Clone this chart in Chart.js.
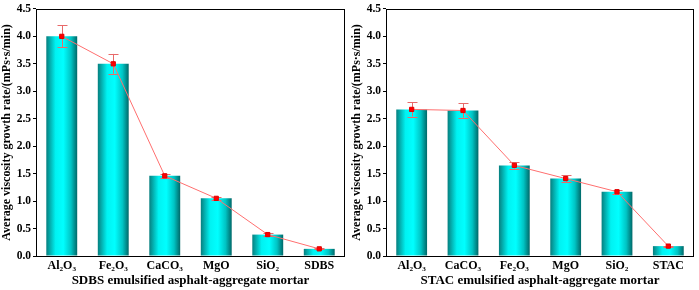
<!DOCTYPE html>
<html>
<head>
<meta charset="utf-8">
<script src="https://cdn.jsdelivr.net/npm/chart.js@4/dist/chart.umd.min.js"></script>
<style>
  html, body { margin: 0; padding: 0; background: #fff; }
  .panel { position: absolute; top: 0; height: 290px; }
</style>
</head>
<body>
<div class="panel" style="left:0;width:350px"><canvas id="chartSdbs"></canvas></div>
<div class="panel" style="left:350px;width:349px"><canvas id="chartStac"></canvas></div>
<script>
let sdbsLabels = ['Al₂O₃', 'Fe₂O₃', 'CaCO₃', 'MgO', 'SiO₂', 'SDBS'];
let sdbsValues = [4.0, 3.5, 1.46, 1.05, 0.39, 0.13];
let sdbsErrors = [0.2, 0.18, 0.04, 0.03, 0.02, 0.01];

let stacLabels = ['Al₂O₃', 'CaCO₃', 'Fe₂O₃', 'MgO', 'SiO₂', 'STAC'];
let stacValues = [2.67, 2.65, 1.65, 1.41, 1.17, 0.18];
let stacErrors = [0.13, 0.13, 0.06, 0.06, 0.04, 0.01];

let yTicks = [0, 0.5, 1.0, 1.5, 2.0, 2.5, 3.0, 3.5, 4.0, 4.5];

const serif = '"Liberation Serif", "DejaVu Serif", serif';

// cylinder look for the bars
function barGradient(context) {
    const chart = context.chart;
    const xs = chart.scales.x;
    if (!chart.chartArea || !xs || context.dataIndex === undefined) return '#00e0e0';
    const x = xs.getPixelForValue(context.dataIndex);
    const w = xs.width / xs.ticks.length * 0.6;
    const g = chart.ctx.createLinearGradient(x - w / 2, 0, x + w / 2, 0);
    g.addColorStop(0, '#067f7f');
    g.addColorStop(0.3, '#00f2f2');
    g.addColorStop(0.55, '#00ffff');
    g.addColorStop(0.8, '#00c4c4');
    g.addColorStop(1, '#006868');
    return g;
}

const errorBars = {
    id: 'errorBars',
    beforeDatasetDraw(chart, args) {
        if (args.index !== 1) return;
        const errs = chart.options.plugins.errorBars.errors;
        const vals = chart.data.datasets[1].data;
        const xs = chart.scales.x, ys = chart.scales.y, ctx = chart.ctx;
        ctx.save();
        ctx.strokeStyle = '#e86a6a';
        ctx.lineWidth = 1;
        vals.forEach((v, i) => {
            const x = Math.round(xs.getPixelForValue(i)) + 0.5;
            const top = ys.getPixelForValue(v + errs[i]);
            const bot = ys.getPixelForValue(v - errs[i]);
            ctx.beginPath();
            ctx.moveTo(x, top); ctx.lineTo(x, bot);
            ctx.moveTo(x - 5, Math.round(top) + 0.5); ctx.lineTo(x + 5, Math.round(top) + 0.5);
            ctx.moveTo(x - 5, Math.round(bot) + 0.5); ctx.lineTo(x + 5, Math.round(bot) + 0.5);
            ctx.stroke();
        });
        ctx.restore();
    }
};

const frame = {
    id: 'frame',
    afterDraw(chart) {
        const a = chart.chartArea, ctx = chart.ctx;
        ctx.save();
        ctx.strokeStyle = '#000';
        ctx.lineWidth = 1;
        ctx.strokeRect(Math.round(a.left) + 0.5, Math.round(a.top) + 0.5, Math.round(a.right - a.left) - 1, Math.round(a.bottom - a.top));
        ctx.restore();
    }
};

function makeChart(id, labels, values, errors, xTitle) {
    return new Chart(document.getElementById(id), {
        type: 'bar',
        data: {
            labels: labels,
            datasets: [{
                type: 'bar',
                data: values,
                backgroundColor: barGradient,
                borderWidth: 0,
                barPercentage: 0.6,
                categoryPercentage: 1.0,
                order: 2
            }, {
                type: 'line',
                data: values,
                borderColor: '#ff6f6f',
                borderWidth: 1,
                pointStyle: 'rect',
                pointRadius: 3,
                pointBackgroundColor: '#ff0000',
                pointBorderColor: '#e00000',
                pointBorderWidth: 1,
                tension: 0,
                order: 1
            }]
        },
        options: {
            responsive: true,
            maintainAspectRatio: false,
            animation: false,
            layout: { padding: { top: 6, right: 4, left: 0, bottom: 0 } },
            plugins: {
                legend: { display: false },
                tooltip: { enabled: false },
                errorBars: { errors: errors }
            },
            scales: {
                x: {
                    offset: true,
                    grid: { display: false, drawTicks: false },
                    border: { display: false },
                    ticks: { color: '#000', padding: 3, font: { family: serif, size: 12, weight: 'bold' } },
                    title: {
                        display: true,
                        text: xTitle,
                        color: '#000',
                        padding: { top: 0, bottom: 2 },
                        font: { family: serif, size: 13, weight: 'bold' }
                    },
                    afterFit: s => { s.height = 34; }
                },
                y: {
                    min: 0,
                    max: 4.5,
                    afterBuildTicks: s => { s.ticks = yTicks.map(v => ({ value: v })); },
                    grid: { drawOnChartArea: false, color: '#000', tickLength: 3 },
                    border: { display: false },
                    ticks: {
                        color: '#000',
                        padding: 2,
                        font: { family: serif, size: 11.5, weight: 'bold' },
                        callback: v => Number(v).toFixed(1)
                    },
                    title: {
                        display: true,
                        text: 'Average viscosity growth rate/(mPs·s/min)',
                        color: '#000',
                        padding: { top: 0, bottom: 0 },
                        font: { family: serif, size: 12, weight: 'bold' }
                    },
                    afterFit: s => { s.width = 36; }
                }
            }
        },
        plugins: [errorBars, frame]
    });
}

makeChart('chartSdbs', sdbsLabels, sdbsValues, sdbsErrors, 'SDBS emulsified asphalt-aggregate mortar');
makeChart('chartStac', stacLabels, stacValues, stacErrors, 'STAC emulsified asphalt-aggregate mortar');
</script>
</body>
</html>
